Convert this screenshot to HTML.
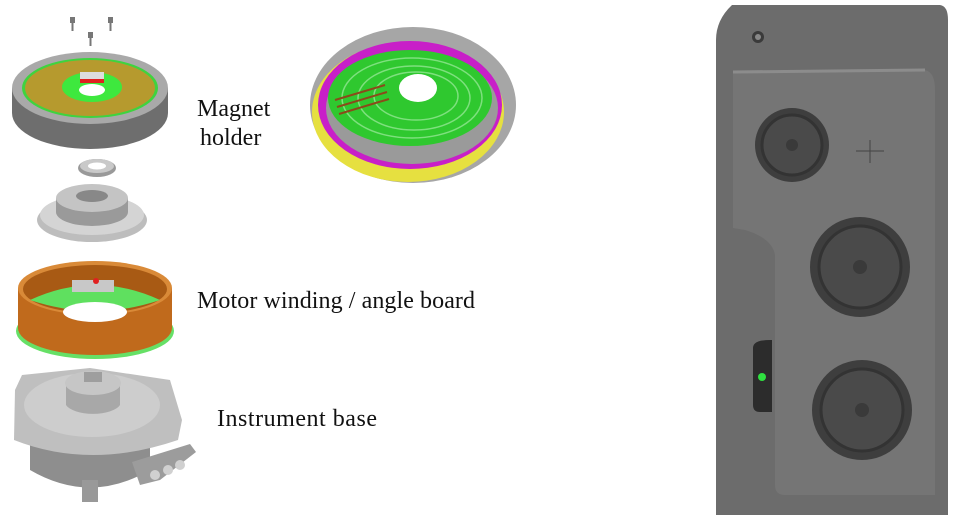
<!DOCTYPE html>
<html><head><meta charset="utf-8"><style>
html,body{margin:0;padding:0;background:#fff;}
svg{display:block;}
text{font-family:"Liberation Serif",serif;font-size:24px;fill:#111;}
</style></head><body>
<svg width="960" height="520" viewBox="0 0 960 520" xmlns="http://www.w3.org/2000/svg">
<rect width="960" height="520" fill="#fff"/>
<g fill="#777">
<rect x="70" y="17" width="5" height="6"/><rect x="71.5" y="22" width="2" height="9"/>
<rect x="108" y="17" width="5" height="6"/><rect x="109.5" y="22" width="2" height="9"/>
<rect x="88" y="32" width="5" height="6"/><rect x="89.5" y="37" width="2" height="9"/>
</g>
<path d="M12 88 L12 113 A78 36 0 0 0 168 113 L168 88 Z" fill="#6e6e6e"/>
<ellipse cx="90" cy="88" rx="78" ry="36" fill="#a9a9a9"/>
<ellipse cx="90" cy="88" rx="68" ry="30" fill="#3fd33f"/>
<ellipse cx="90" cy="88" rx="65" ry="28" fill="#b69a2e"/>
<ellipse cx="92" cy="87" rx="30" ry="15" fill="#3ee83e"/>
<ellipse cx="92" cy="90" rx="13" ry="6" fill="#fff"/>
<rect x="80" y="72" width="24" height="9" fill="#ddd"/>
<rect x="80" y="79" width="24" height="4" fill="#e02020"/>
<ellipse cx="97" cy="168" rx="19" ry="9" fill="#999"/>
<ellipse cx="97" cy="166" rx="17" ry="7" fill="#c9c9c9"/>
<ellipse cx="97" cy="166" rx="9" ry="3.5" fill="#fff"/>
<ellipse cx="92" cy="220" rx="55" ry="22" fill="#bdbdbd"/>
<ellipse cx="92" cy="215" rx="52" ry="20" fill="#d4d4d4"/>
<path d="M56 198 L56 212 A36 14 0 0 0 128 212 L128 198 Z" fill="#9a9a9a"/>
<ellipse cx="92" cy="198" rx="36" ry="14" fill="#c4c4c4"/>
<ellipse cx="92" cy="196" rx="16" ry="6" fill="#888"/>
<ellipse cx="95" cy="331" rx="79" ry="28" fill="#66e066"/>
<path d="M18 288 L18 328 A77 27 0 0 0 172 328 L172 288 Z" fill="#c06a1c"/>
<ellipse cx="95" cy="288" rx="77" ry="27" fill="#d98a38"/>
<ellipse cx="95" cy="289" rx="72" ry="24" fill="#a85a14"/>
<path d="M30 300 Q95 270 160 300 Q95 322 30 300Z" fill="#5fe05f"/>
<ellipse cx="95" cy="312" rx="32" ry="10" fill="#fff"/>
<rect x="72" y="280" width="42" height="12" fill="#c8c8c8"/>
<circle cx="96" cy="281" r="3" fill="#e02020"/>
<path d="M30 445 L30 470 Q90 505 150 470 L150 445 Z" fill="#8e8e8e"/>
<rect x="82" y="480" width="16" height="22" fill="#999"/>
<path d="M15 390 L22 375 L90 368 L170 380 L182 420 L178 440 Q90 470 14 440 Z" fill="#bfbfbf"/>
<ellipse cx="92" cy="405" rx="68" ry="32" fill="#cdcdcd"/>
<path d="M66 383 L66 405 A28 12 0 0 0 120 405 L120 383 Z" fill="#a8a8a8"/>
<ellipse cx="93" cy="383" rx="28" ry="12" fill="#c6c6c6"/>
<rect x="84" y="372" width="18" height="10" fill="#9e9e9e"/>
<path d="M132 462 L190 444 L196 452 L160 480 L140 485 Z" fill="#9c9c9c"/>
<g fill="#d0d0d0"><circle cx="155" cy="475" r="5"/><circle cx="168" cy="470" r="5"/><circle cx="180" cy="465" r="5"/></g>
<ellipse cx="413" cy="105" rx="103" ry="78" fill="#a6a6a6"/>
<ellipse cx="408" cy="112" rx="96" ry="70" fill="#e6e040"/>
<ellipse cx="410" cy="105" rx="92" ry="64" fill="#c81fc8"/>
<ellipse cx="412" cy="108" rx="86" ry="56" fill="#9a9a9a"/>
<ellipse cx="410" cy="98" rx="82" ry="48" fill="#2fc82f"/>
<g fill="none" stroke="#7ee07e" stroke-width="1.5">
<ellipse cx="412" cy="98" rx="70" ry="40"/><ellipse cx="414" cy="98" rx="56" ry="32"/><ellipse cx="416" cy="96" rx="42" ry="24"/>
</g>
<ellipse cx="418" cy="88" rx="19" ry="14" fill="#fff"/>
<g stroke="#8b4a1a" stroke-width="2"><line x1="335" y1="100" x2="385" y2="85"/><line x1="337" y1="107" x2="387" y2="92"/><line x1="339" y1="114" x2="389" y2="99"/></g>
<text x="197" y="116">Magnet</text>
<text x="200" y="145">holder</text>
<text x="197" y="308" textLength="278">Motor winding / angle board</text>
<text x="217" y="426" textLength="160">Instrument base</text>
<path d="M732 5 L940 5 Q948 6 948 20 L948 515 L716 515 L716 40 Q716 20 732 5 Z" fill="#6c6c6c"/>
<path d="M733 72 L925 70 Q935 72 935 90 L935 495 L785 495 Q775 495 775 485 L775 255 Q772 238 745 230 L733 228 Z" fill="#757575"/>
<path d="M733 72 L925 70" stroke="#8c8c8c" stroke-width="3"/>
<circle cx="758" cy="37" r="6" fill="#3a3a3a"/><circle cx="758" cy="37" r="3" fill="#888"/>
<g>
<circle cx="792" cy="145" r="37" fill="#3e3e3e"/><circle cx="792" cy="145" r="30" fill="#4a4a4a" stroke="#333" stroke-width="3"/><circle cx="792" cy="145" r="6" fill="#3a3a3a"/>
<circle cx="860" cy="267" r="50" fill="#3e3e3e"/><circle cx="860" cy="267" r="41" fill="#4a4a4a" stroke="#333" stroke-width="3"/><circle cx="860" cy="267" r="7" fill="#3a3a3a"/>
<circle cx="862" cy="410" r="50" fill="#3e3e3e"/><circle cx="862" cy="410" r="41" fill="#4a4a4a" stroke="#333" stroke-width="3"/><circle cx="862" cy="410" r="7" fill="#3a3a3a"/>
</g>
<g stroke="#444" stroke-width="1"><line x1="856" y1="151" x2="884" y2="151"/><line x1="870" y1="140" x2="870" y2="163"/></g>
<path d="M753 348 Q753 340 770 340 L772 340 L772 412 L760 412 Q753 412 753 405 Z" fill="#2c2c2c"/>
<circle cx="762" cy="377" r="4" fill="#2fe040"/>
</svg>
</body></html>
